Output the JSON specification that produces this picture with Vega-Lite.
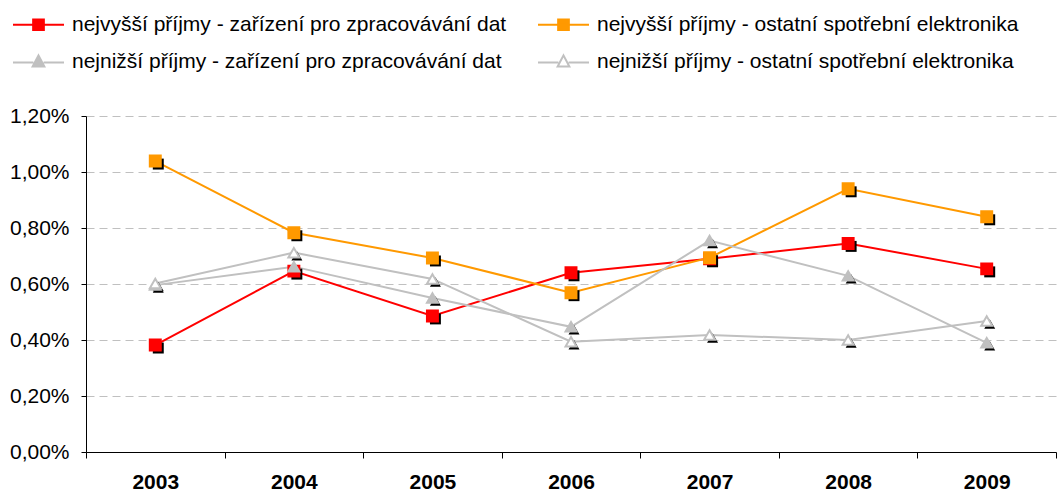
{
  "$schema": "https://vega.github.io/schema/vega-lite/v6.json",
  "autosize": {"type": "none"},
  "width": 970,
  "height": 336,
  "padding": {"left": 86, "top": 116, "right": 2, "bottom": 40},
  "background": "white",
  "config": {
    "locale": {"number": {"decimal": ",", "thousands": " ", "grouping": [3], "currency": ["", " Kč"]}},
    "font": "Liberation Sans",
    "view": {"stroke": null}
  },
  "data": {
    "values": [
      {"year": "2003", "series": "nejvyšší příjmy - zařízení pro zpracovávání dat", "value": 0.00382},
      {"year": "2004", "series": "nejvyšší příjmy - zařízení pro zpracovávání dat", "value": 0.00646},
      {"year": "2005", "series": "nejvyšší příjmy - zařízení pro zpracovávání dat", "value": 0.00486},
      {"year": "2006", "series": "nejvyšší příjmy - zařízení pro zpracovávání dat", "value": 0.0064},
      {"year": "2007", "series": "nejvyšší příjmy - zařízení pro zpracovávání dat", "value": 0.0069},
      {"year": "2008", "series": "nejvyšší příjmy - zařízení pro zpracovávání dat", "value": 0.00745},
      {"year": "2009", "series": "nejvyšší příjmy - zařízení pro zpracovávání dat", "value": 0.00654},
      {"year": "2003", "series": "nejvyšší příjmy - ostatní spotřební elektronika", "value": 0.01039},
      {"year": "2004", "series": "nejvyšší příjmy - ostatní spotřební elektronika", "value": 0.00783},
      {"year": "2005", "series": "nejvyšší příjmy - ostatní spotřební elektronika", "value": 0.00693},
      {"year": "2006", "series": "nejvyšší příjmy - ostatní spotřební elektronika", "value": 0.00569},
      {"year": "2007", "series": "nejvyšší příjmy - ostatní spotřební elektronika", "value": 0.00694},
      {"year": "2008", "series": "nejvyšší příjmy - ostatní spotřební elektronika", "value": 0.0094},
      {"year": "2009", "series": "nejvyšší příjmy - ostatní spotřební elektronika", "value": 0.0084},
      {"year": "2003", "series": "nejnižší příjmy - zařízení pro zpracovávání dat", "value": 0.00596},
      {"year": "2004", "series": "nejnižší příjmy - zařízení pro zpracovávání dat", "value": 0.00662},
      {"year": "2005", "series": "nejnižší příjmy - zařízení pro zpracovávání dat", "value": 0.0055},
      {"year": "2006", "series": "nejnižší příjmy - zařízení pro zpracovávání dat", "value": 0.00447},
      {"year": "2007", "series": "nejnižší příjmy - zařízení pro zpracovávání dat", "value": 0.00755},
      {"year": "2008", "series": "nejnižší příjmy - zařízení pro zpracovávání dat", "value": 0.00629},
      {"year": "2009", "series": "nejnižší příjmy - zařízení pro zpracovávání dat", "value": 0.0039},
      {"year": "2003", "series": "nejnižší příjmy - ostatní spotřební elektronika", "value": 0.00602},
      {"year": "2004", "series": "nejnižší příjmy - ostatní spotřební elektronika", "value": 0.00712},
      {"year": "2005", "series": "nejnižší příjmy - ostatní spotřební elektronika", "value": 0.00618},
      {"year": "2006", "series": "nejnižší příjmy - ostatní spotřební elektronika", "value": 0.00394},
      {"year": "2007", "series": "nejnižší příjmy - ostatní spotřební elektronika", "value": 0.00418},
      {"year": "2008", "series": "nejnižší příjmy - ostatní spotřební elektronika", "value": 0.004},
      {"year": "2009", "series": "nejnižší příjmy - ostatní spotřební elektronika", "value": 0.00468}
    ]
  },
  "encoding": {
    "x": {
      "field": "year", "type": "ordinal",
      "scale": {"type": "band", "paddingInner": 0, "paddingOuter": 0},
      "axis": {
        "title": null, "labelAngle": 0, "tickBand": "extent",
        "domainColor": "black", "tickColor": "black", "tickSize": 6,
        "labelFont": "Liberation Sans", "labelFontSize": 21, "labelFontWeight": "bold",
        "labelColor": "black", "labelPadding": 13, "grid": false
      }
    },
    "y": {
      "field": "value", "type": "quantitative",
      "scale": {"domain": [0, 0.012], "nice": false},
      "axis": {
        "title": null, "format": ".2%", "values": [0, 0.002, 0.004, 0.006, 0.008, 0.01, 0.012],
        "domainColor": "black", "tickColor": "black", "tickSize": 5,
        "labelFont": "Liberation Sans", "labelFontSize": 21, "labelColor": "black", "labelPadding": 12,
        "grid": true, "gridColor": "#c0c0c0", "gridDash": [8, 5], "gridWidth": 1
      }
    }
  },
  "resolve": {"legend": {"color": "independent", "shape": "independent", "fill": "independent", "stroke": "independent"}},
  "layer": [
    {
      "mark": {"type": "line", "strokeWidth": 2},
      "encoding": {
        "color": {
          "field": "series", "type": "nominal",
          "scale": {
            "domain": [
              "nejvyšší příjmy - zařízení pro zpracovávání dat",
              "nejnižší příjmy - zařízení pro zpracovávání dat",
              "nejvyšší příjmy - ostatní spotřební elektronika",
              "nejnižší příjmy - ostatní spotřební elektronika"
            ],
            "range": ["#ff0000", "#c0c0c0", "#ff9900", "#c0c0c0"]
          },
          "legend": {
            "title": null, "orient": "none", "legendX": -74, "legendY": -118,
            "columns": 2, "columnPadding": 27, "rowPadding": -1,
            "labelFont": "Liberation Sans", "labelFontSize": 21, "labelColor": "black",
            "labelLimit": 700, "symbolSize": 2601, "symbolStrokeWidth": 2, "labelOffset": 7,
            "encode": {
              "symbols": {
                "update": {
                  "shape": {"signal": "indexof(datum.value, 'nejvyšší') === 0 ? 'M-1,0H1M-0.21,-0.21H0.21V0.21H-0.21Z' : 'M-1,0.04H-0.2M0.2,0.04H1M0,-0.24L0.23,0.2H-0.23Z'"},
                  "fill": {"signal": "datum.value === 'nejvyšší příjmy - zařízení pro zpracovávání dat' ? '#ff0000' : datum.value === 'nejvyšší příjmy - ostatní spotřební elektronika' ? '#ff9900' : datum.value === 'nejnižší příjmy - zařízení pro zpracovávání dat' ? '#c0c0c0' : '#ffffff'"},
                  "opacity": {"value": 1},
                  "fillOpacity": {"value": 1}
                }
              }
            }
          }
        },
        "order": {"field": "year"}
      }
    },
    {
      "mark": {"type": "point", "filled": true, "color": "black", "opacity": 1, "xOffset": 3, "yOffset": 3, "size": 120},
      "encoding": {
        "shape": {
          "field": "series", "type": "nominal",
          "scale": {
            "domain": [
              "nejvyšší příjmy - zařízení pro zpracovávání dat",
              "nejnižší příjmy - zařízení pro zpracovávání dat",
              "nejvyšší příjmy - ostatní spotřební elektronika",
              "nejnižší příjmy - ostatní spotřební elektronika"
            ],
            "range": ["square", "triangle-up", "square", "triangle-up"]
          },
          "legend": null
        }
      }
    },
    {
      "mark": {"type": "point", "opacity": 1, "strokeWidth": 2, "size": 120},
      "encoding": {
        "shape": {"field": "series", "type": "nominal", "legend": null},
        "fill": {
          "field": "series", "type": "nominal",
          "scale": {
            "domain": [
              "nejvyšší příjmy - zařízení pro zpracovávání dat",
              "nejnižší příjmy - zařízení pro zpracovávání dat",
              "nejvyšší příjmy - ostatní spotřební elektronika",
              "nejnižší příjmy - ostatní spotřební elektronika"
            ],
            "range": ["#ff0000", "#c0c0c0", "#ff9900", "#ffffff"]
          },
          "legend": null
        },
        "stroke": {
          "field": "series", "type": "nominal",
          "scale": {
            "domain": [
              "nejvyšší příjmy - zařízení pro zpracovávání dat",
              "nejnižší příjmy - zařízení pro zpracovávání dat",
              "nejvyšší příjmy - ostatní spotřební elektronika",
              "nejnižší příjmy - ostatní spotřební elektronika"
            ],
            "range": ["#ff0000", "#c0c0c0", "#ff9900", "#c0c0c0"]
          },
          "legend": null
        }
      }
    }
  ]
}
